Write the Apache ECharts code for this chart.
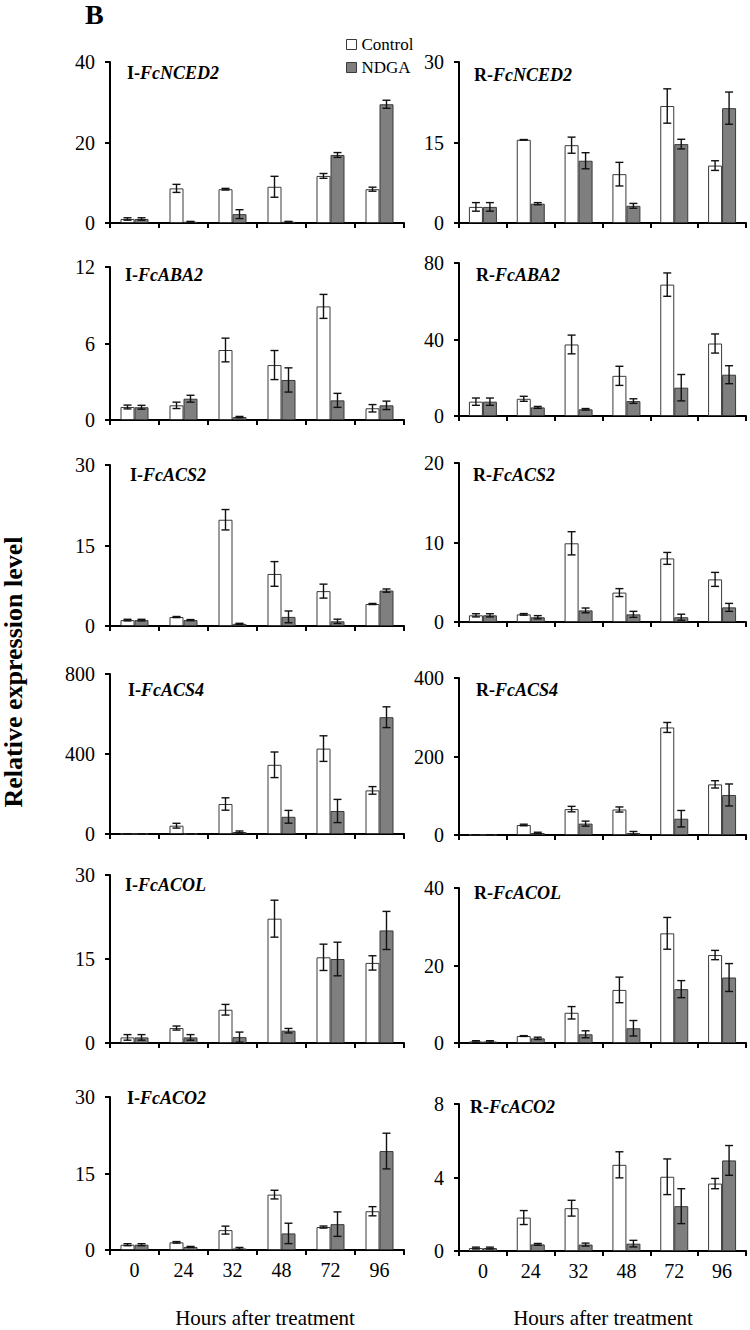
<!DOCTYPE html>
<html>
<head>
<meta charset="utf-8">
<script src="https://cdn.jsdelivr.net/npm/echarts@6/dist/echarts.min.js"></script>
<style>
html,body{margin:0;padding:0;background:#fff;}
#c{width:750px;height:1330px;}
</style>
</head>
<body>
<div id="c"></div>
<script>
// ---------- DATA ----------
const hours = ['0', '24', '32', '48', '72', '96'];
const seriesNames = ['Control', 'NDGA'];

const iNCED2Control = [1.0, 8.6, 8.4, 9.0, 11.7, 8.4];
const iNCED2ControlSE = [0.3, 1.0, 0.2, 2.6, 0.6, 0.5];
const iNCED2Ndga = [1.0, 0.3, 2.2, 0.3, 16.9, 29.5];
const iNCED2NdgaSE = [0.3, 0.1, 1.1, 0.1, 0.6, 1.0];

const rNCED2Control = [3.0, 15.5, 14.5, 9.1, 21.8, 10.7];
const rNCED2ControlSE = [0.8, 0.05, 1.5, 2.2, 3.2, 0.9];
const rNCED2Ndga = [3.0, 3.6, 11.6, 3.2, 14.7, 21.4];
const rNCED2NdgaSE = [0.8, 0.2, 1.5, 0.45, 0.9, 3.0];

const iABA2Control = [1.02, 1.15, 5.49, 4.31, 8.91, 0.92];
const iABA2ControlSE = [0.15, 0.25, 0.93, 1.14, 0.94, 0.29];
const iABA2Ndga = [1.0, 1.67, 0.23, 3.14, 1.54, 1.15];
const iABA2NdgaSE = [0.15, 0.27, 0.05, 0.95, 0.55, 0.33];

const rABA2Control = [7.5, 9.0, 37.4, 21.0, 68.7, 37.9];
const rABA2ControlSE = [1.9, 1.3, 4.9, 5.0, 6.1, 5.0];
const rABA2Ndga = [7.5, 4.5, 3.5, 7.8, 14.8, 21.6];
const rABA2NdgaSE = [1.9, 0.5, 0.4, 1.2, 6.9, 4.7];

const iACS2Control = [1.1, 1.67, 19.8, 9.7, 6.5, 4.1];
const iACS2ControlSE = [0.15, 0.1, 1.9, 2.3, 1.3, 0.1];
const iACS2Ndga = [1.1, 1.1, 0.4, 1.7, 0.87, 6.6];
const iACS2NdgaSE = [0.15, 0.1, 0.1, 1.1, 0.4, 0.3];

const rACS2Control = [0.84, 0.96, 9.9, 3.7, 8.0, 5.36];
const rACS2ControlSE = [0.2, 0.1, 1.46, 0.5, 0.75, 0.88];
const rACS2Ndga = [0.84, 0.6, 1.46, 0.96, 0.6, 1.84];
const rACS2NdgaSE = [0.2, 0.2, 0.3, 0.38, 0.38, 0.5];

const iACS4Control = [1, 41.5, 150, 346, 427, 218];
const iACS4ControlSE = [0.5, 12, 31, 64, 64, 19];
const iACS4Ndga = [1, 0.5, 10, 86, 115, 584];
const iACS4NdgaSE = [0.5, 0.3, 5, 32, 58, 52];

const rACS4Control = [0.5, 25.5, 66, 65, 274, 129];
const rACS4ControlSE = [0.3, 2, 7, 6.5, 12.7, 9.3];
const rACS4Ndga = [0.5, 5, 29, 5, 41.5, 102];
const rACS4NdgaSE = [0.3, 2, 6.4, 4, 21, 28];

const iACOLControl = [1.0, 2.67, 5.94, 22.2, 15.3, 14.3];
const iACOLControlSE = [0.5, 0.36, 0.95, 3.3, 2.35, 1.28];
const iACOLNdga = [1.0, 1.0, 1.05, 2.2, 15.0, 20.1];
const iACOLNdgaSE = [0.5, 0.5, 0.9, 0.4, 3.0, 3.4];

const rACOLControl = [0.4, 1.8, 7.8, 13.7, 28.3, 22.7];
const rACOLControlSE = [0.2, 0.1, 1.6, 3.3, 4.1, 1.2];
const rACOLNdga = [0.4, 1.2, 2.25, 3.8, 13.9, 16.9];
const rACOLNdgaSE = [0.2, 0.3, 0.9, 2.0, 2.2, 3.6];

const iACO2Control = [1.04, 1.5, 3.9, 10.86, 4.5, 7.6];
const iACO2ControlSE = [0.2, 0.15, 0.78, 0.85, 0.2, 0.9];
const iACO2Ndga = [1.04, 0.6, 0.3, 3.25, 5.07, 19.4];
const iACO2NdgaSE = [0.2, 0.1, 0.2, 2.0, 2.4, 3.5];

const rACO2Control = [0.16, 1.82, 2.33, 4.69, 4.04, 3.67];
const rACO2ControlSE = [0.05, 0.38, 0.43, 0.71, 0.97, 0.28];
const rACO2Ndga = [0.16, 0.36, 0.35, 0.4, 2.44, 4.93];
const rACO2NdgaSE = [0.05, 0.05, 0.08, 0.18, 0.95, 0.81];

// panel titles: prefix, gene name
const panelPrefixes = ['I-', 'R-', 'I-', 'R-', 'I-', 'R-', 'I-', 'R-', 'I-', 'R-', 'I-', 'R-'];
const panelGenes = ['FcNCED2', 'FcNCED2', 'FcABA2', 'FcABA2', 'FcACS2', 'FcACS2', 'FcACS4', 'FcACS4', 'FcACOL', 'FcACOL', 'FcACO2', 'FcACO2'];
const yMaxima = [40, 30, 12, 80, 30, 20, 800, 400, 30, 40, 30, 8];

const yTitle = 'Relative expression level';
const xTitle = 'Hours after treatment';
const figLabel = 'B';

// ---------- BUILD ----------
const panelData = [
  [iNCED2Control, iNCED2ControlSE, iNCED2Ndga, iNCED2NdgaSE],
  [rNCED2Control, rNCED2ControlSE, rNCED2Ndga, rNCED2NdgaSE],
  [iABA2Control, iABA2ControlSE, iABA2Ndga, iABA2NdgaSE],
  [rABA2Control, rABA2ControlSE, rABA2Ndga, rABA2NdgaSE],
  [iACS2Control, iACS2ControlSE, iACS2Ndga, iACS2NdgaSE],
  [rACS2Control, rACS2ControlSE, rACS2Ndga, rACS2NdgaSE],
  [iACS4Control, iACS4ControlSE, iACS4Ndga, iACS4NdgaSE],
  [rACS4Control, rACS4ControlSE, rACS4Ndga, rACS4NdgaSE],
  [iACOLControl, iACOLControlSE, iACOLNdga, iACOLNdgaSE],
  [rACOLControl, rACOLControlSE, rACOLNdga, rACOLNdgaSE],
  [iACO2Control, iACO2ControlSE, iACO2Ndga, iACO2NdgaSE],
  [rACO2Control, rACO2ControlSE, rACO2Ndga, rACO2NdgaSE]
];

// layout: [left, right, top, bottom] in px
const layout = [
  [110, 404, 62, 223], [459, 746, 62, 223],
  [110, 404, 267, 420], [459, 746, 263, 416],
  [110, 404, 465, 626], [459, 746, 463, 622],
  [110, 404, 674, 834], [459, 746, 678, 835],
  [110, 404, 875, 1043], [459, 746, 888, 1043],
  [110, 404, 1097, 1250], [459, 746, 1104, 1251]
];
// title positions [x, y-top]
const titlePos = [
  [127, 63], [474, 65],
  [125, 265], [476, 265],
  [130, 465], [473, 465],
  [128, 680], [476, 680],
  [125, 875], [474, 883],
  [127, 1088], [470, 1097]
];

const FONT = "'Liberation Serif', 'Times New Roman', serif";
const BLACK = '#000';
const CTRL_FILL = '#ffffff';
const NDGA_FILL = '#7f7f7f';
const BORDER = '#3a3a3a';

const grids = [], xAxes = [], yAxes = [], series = [], titles = [];

function errRender(offset) {
  return function (params, api) {
    const x = api.value(0), y = api.value(1), e = api.value(2);
    const hi = api.coord([x, y + e]);
    const lo = api.coord([x, Math.max(0, y - e)]);
    const cx = hi[0] + offset;
    const half = 4;
    const st = { stroke: '#111', lineWidth: 1.4 };
    return {
      type: 'group',
      children: [
        { type: 'line', shape: { x1: cx, y1: hi[1], x2: cx, y2: lo[1] }, style: st },
        { type: 'line', shape: { x1: cx - half, y1: hi[1], x2: cx + half, y2: hi[1] }, style: st },
        { type: 'line', shape: { x1: cx - half, y1: lo[1], x2: cx + half, y2: lo[1] }, style: st }
      ]
    };
  };
}

for (let i = 0; i < 12; i++) {
  const [l, r, t, b] = layout[i];
  grids.push({ left: l, width: r - l, top: t, height: b - t, containLabel: false });
  const bottomRow = i >= 10;
  xAxes.push({
    type: 'category', gridIndex: i, data: hours, boundaryGap: true,
    axisLine: { lineStyle: { color: BLACK, width: 2 } },
    axisTick: { show: true, length: 5, lineStyle: { color: BLACK, width: 2 } },
    axisLabel: { show: bottomRow, color: BLACK, fontFamily: FONT, fontSize: 20, margin: 10 },
    splitLine: { show: false }
  });
  const mx = yMaxima[i];
  yAxes.push({
    type: 'value', gridIndex: i, min: 0, max: mx, interval: mx / 2,
    axisLine: { show: true, lineStyle: { color: BLACK, width: 2 } },
    axisTick: { show: true, length: 5, lineStyle: { color: BLACK, width: 2 } },
    axisLabel: { color: BLACK, fontFamily: FONT, fontSize: 20, margin: 15 },
    splitLine: { show: false }
  });
  const [c, cse, n, nse] = panelData[i];
  series.push({
    name: seriesNames[0], type: 'bar', xAxisIndex: i, yAxisIndex: i,
    data: c, barWidth: 14, barGap: '0%',
    itemStyle: { color: CTRL_FILL, borderColor: BORDER, borderWidth: 1 },
    silent: true, animation: false
  });
  series.push({
    name: seriesNames[1], type: 'bar', xAxisIndex: i, yAxisIndex: i,
    data: n, barWidth: 14, barGap: '0%',
    itemStyle: { color: NDGA_FILL, borderColor: BORDER, borderWidth: 1 },
    silent: true, animation: false
  });
  series.push({
    type: 'custom', xAxisIndex: i, yAxisIndex: i, z: 10,
    renderItem: errRender(-7), encode: { x: 0, y: 1 },
    data: c.map((v, k) => [k, v, cse[k]]), silent: true, animation: false
  });
  series.push({
    type: 'custom', xAxisIndex: i, yAxisIndex: i, z: 10,
    renderItem: errRender(7), encode: { x: 0, y: 1 },
    data: n.map((v, k) => [k, v, nse[k]]), silent: true, animation: false
  });
  titles.push({
    text: '{a|' + panelPrefixes[i] + '}{b|' + panelGenes[i] + '}',
    left: titlePos[i][0], top: titlePos[i][1], padding: 0,
    textStyle: {
      rich: {
        a: { fontFamily: FONT, fontSize: 18, fontWeight: 'bold', color: BLACK, lineHeight: 20 },
        b: { fontFamily: FONT, fontSize: 18, fontWeight: 'bold', fontStyle: 'italic', color: BLACK, lineHeight: 20 }
      }
    }
  });
}

const chart = echarts.init(document.getElementById('c'), null, { renderer: 'svg', width: 750, height: 1330 });
chart.setOption({
  backgroundColor: '#fff',
  animation: false,
  title: titles,
  legend: {
    orient: 'vertical', left: 341, top: 31, itemWidth: 10, itemHeight: 10, itemGap: 6,
    selectedMode: false, icon: 'rect',
    textStyle: { fontFamily: FONT, fontSize: 17, color: BLACK },
    data: [
      { name: 'Control', itemStyle: { color: CTRL_FILL, borderColor: BORDER, borderWidth: 1 } },
      { name: 'NDGA', itemStyle: { color: NDGA_FILL, borderColor: BORDER, borderWidth: 1 } }
    ]
  },
  grid: grids,
  xAxis: xAxes,
  yAxis: yAxes,
  series: series,
  graphic: [
    { type: 'text', left: 85, top: 0, style: { text: figLabel, font: "bold 28px " + FONT, fill: BLACK } },
    { type: 'text', x: 13, y: 672, rotation: Math.PI / 2,
      style: { text: yTitle, font: "bold 26px " + FONT, fill: BLACK, textAlign: 'center', textVerticalAlign: 'middle' } },
    { type: 'text', x: 265, y: 1318,
      style: { text: xTitle, font: "21px " + FONT, fill: BLACK, textAlign: 'center', textVerticalAlign: 'middle' } },
    { type: 'text', x: 603, y: 1318,
      style: { text: xTitle, font: "21px " + FONT, fill: BLACK, textAlign: 'center', textVerticalAlign: 'middle' } }
  ]
});
</script>
</body>
</html>
